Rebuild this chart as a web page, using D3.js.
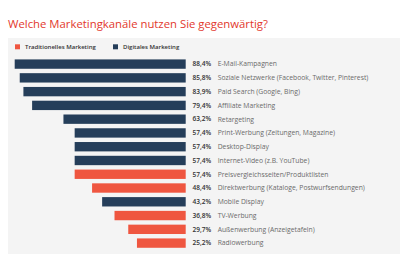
<!DOCTYPE html>
<html>
<head>
<meta charset="utf-8">
<script src="https://cdn.jsdelivr.net/npm/d3@7"></script>
<style>
  body { margin: 0; background: #fff; }
  svg { display: block; font-family: "Open Sans", sans-serif; }
</style>
</head>
<body>
<svg id="chart"></svg>
<script>
const width = 410;
const height = 261;

// Data
const categories = [
  "E-Mail-Kampagnen",
  "Soziale Netzwerke (Facebook, Twitter, Pinterest)",
  "Paid Search (Google, Bing)",
  "Affiliate Marketing",
  "Retargeting",
  "Print-Werbung (Zeitungen, Magazine)",
  "Desktop-Display",
  "Internet-Video (z.B. YouTube)",
  "Preisvergleichsseiten/Produktlisten",
  "Direktwerbung (Kataloge, Postwurfsendungen)",
  "Mobile Display",
  "TV-Werbung",
  "Außenwerbung (Anzeigetafeln)",
  "Radiowerbung"
];
const values = [88.4, 85.8, 83.9, 79.4, 63.2, 57.4, 57.4, 57.4, 57.4, 48.4, 43.2, 36.8, 29.7, 25.2];
const types = ["d", "d", "d", "d", "d", "d", "d", "d", "t", "t", "d", "t", "t", "t"];
const legendLabels = ["Traditionelles Marketing", "Digitales Marketing"];

const color = d3.scaleOrdinal()
  .domain(["t", "d"])
  .range(["#ef5640", "#253e5a"]);

const data = categories.map((c, i) => ({ name: c, value: values[i], type: types[i] }));

const svg = d3.select("#chart")
  .attr("width", width)
  .attr("height", height);

// pick a font size so that a sample text gets the wanted width
function fitSize(text, target, weight) {
  const t = svg.append("text")
    .style("font-size", "10px")
    .style("font-weight", weight)
    .text(text);
  const w = t.node().getComputedTextLength();
  t.remove();
  return 10 * target / w;
}

// Title
svg.append("text")
  .attr("x", 8)
  .attr("y", 27.5)
  .attr("fill", "#e2382d")
  .style("font-size", fitSize("Welche Marketingkanäle nutzen Sie gegenwärtig?", 260, 400) + "px")
  .text("Welche Marketingkanäle nutzen Sie gegenwärtig?");

// Gray panel
svg.append("rect")
  .attr("x", 8)
  .attr("y", 38)
  .attr("width", 392)
  .attr("height", 216)
  .attr("fill", "#f4f4f4");

// Legend
const legendSize = fitSize(legendLabels[0], 71, 600);
const legend = svg.append("g");
const legendX = [15, 113];
legendLabels.forEach((lab, i) => {
  legend.append("rect")
    .attr("x", legendX[i])
    .attr("y", 44.3)
    .attr("width", 5)
    .attr("height", 5)
    .attr("fill", color(i === 0 ? "t" : "d"));
  legend.append("text")
    .attr("x", legendX[i] + 10)
    .attr("y", 49.3)
    .attr("fill", "#333")
    .style("font-size", legendSize + "px")
    .style("font-weight", "600")
    .text(lab);
});

// Scales
const xScale = d3.scaleLinear()
  .domain([0, 88.4])
  .range([185.7, 14.7]);

const step = 13.77;
const y0 = 55;
const yScale = d3.scaleBand()
  .domain(categories)
  .range([y0, y0 + step * (categories.length + 0.32)])
  .paddingInner(0.32)
  .paddingOuter(0.32);

// Bars
svg.selectAll(".bar")
  .data(data)
  .enter()
  .append("rect")
  .attr("class", "bar")
  .attr("x", d => xScale(d.value))
  .attr("y", d => yScale(d.name))
  .attr("width", d => xScale(0) - xScale(d.value))
  .attr("height", yScale.bandwidth())
  .attr("fill", d => color(d.type));

// Value labels
const valSize = fitSize("85,8%", 18.7, 600);
svg.selectAll(".val")
  .data(data)
  .enter()
  .append("text")
  .attr("class", "val")
  .attr("x", xScale(0) + 6.8)
  .attr("y", d => yScale(d.name) + yScale.bandwidth() / 2)
  .attr("dy", "0.35em")
  .attr("fill", "#333")
  .style("font-size", valSize + "px")
  .style("font-weight", "600")
  .text(d => d3.format(".1f")(d.value).replace(".", ",") + "%");

// Category labels
const catSize = fitSize(categories[1], 151, 400);
svg.selectAll(".cat")
  .data(data)
  .enter()
  .append("text")
  .attr("class", "cat")
  .attr("x", xScale(0) + 32)
  .attr("y", d => yScale(d.name) + yScale.bandwidth() / 2)
  .attr("dy", "0.35em")
  .attr("fill", "#6a6a6a")
  .style("font-size", catSize + "px")
  .text(d => d.name);
</script>
</body>
</html>
